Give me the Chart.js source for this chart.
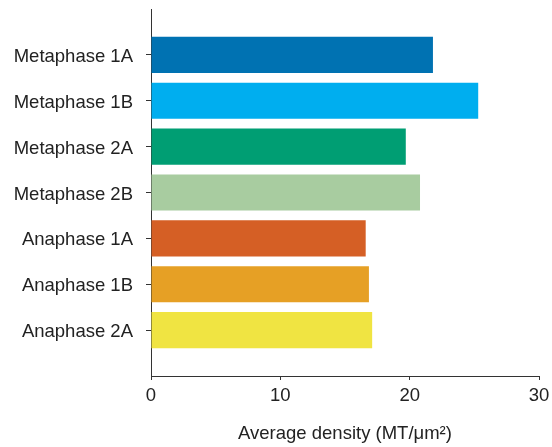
<!DOCTYPE html>
<html>
<head>
<meta charset="utf-8">
<script src="https://cdn.jsdelivr.net/npm/chart.js@4/dist/chart.umd.min.js"></script>
<style>
  html, body { margin: 0; padding: 0; background: #fff; }
  #wrap { width: 552px; height: 447px; }
</style>
</head>
<body>
<div id="wrap"><canvas id="densityChart" width="552" height="447"></canvas></div>
<script>
const phases = ["Metaphase 1A", "Metaphase 1B", "Metaphase 2A", "Metaphase 2B",
                "Anaphase 1A", "Anaphase 1B", "Anaphase 2A"];
const density = [21.8, 25.3, 19.7, 20.8, 16.6, 16.85, 17.1];
const barColors = ["#0072B2", "#00AEEF", "#009E73", "#A8CCA0",
                   "#D55F25", "#E6A025", "#F0E442"];
const xTicks = [0, 10, 20, 30];

// half-empty slot above and below the bars so the axis lines run past them
const labels = ["", ...phases, ""];
const values = [null, ...density, null];
const colors = ["transparent", ...barColors, "transparent"];

const font = { family: "'Liberation Sans', Arial, sans-serif", size: 18.5 };
const ink = "#222";

new Chart(document.getElementById("densityChart"), {
    type: "bar",
    data: {
        labels: labels,
        datasets: [
            {
                data: values,
                backgroundColor: colors,
                borderWidth: 0,
                categoryPercentage: 1,
                barPercentage: 0.785,
            },
        ],
    },
    options: {
        indexAxis: "y",
        responsive: false,
        animation: false,
        layout: { padding: { top: 9, right: 13, left: 0, bottom: 0 } },
        plugins: { legend: { display: false }, tooltip: { enabled: false } },
        scales: {
            x: {
                min: 0,
                max: 30,
                afterBuildTicks: (scale) => {
                    scale.ticks = xTicks.map((v) => ({ value: v }));
                },
                afterFit: (scale) => {
                    scale.height = 71;
                    scale.paddingLeft = 0;
                    scale.paddingRight = 0;
                },
                grid: { drawOnChartArea: false, tickLength: 4, color: "#333" },
                border: { color: "#333", width: 1 },
                ticks: { color: ink, font: font, padding: 5, maxRotation: 0 },
                title: {
                    display: true,
                    text: "Average density (MT/\u03BCm\u00B2)",
                    color: ink,
                    font: font,
                    padding: { top: 0, bottom: 2 },
                },
            },
            y: {
                offset: false,
                afterFit: (scale) => {
                    scale.width = 151;
                    scale.paddingTop = 0;
                    scale.paddingBottom = 0;
                },
                grid: {
                    offset: false,
                    drawOnChartArea: false,
                    tickLength: 5,
                    color: (ctx) =>
                        ctx.index === 0 || ctx.index === labels.length - 1 ? "transparent" : "#333",
                },
                border: { color: "#333", width: 1 },
                ticks: { color: ink, font: font, padding: 13, labelOffset: 2, autoSkip: false },
            },
        },
    },
});
</script>
</body>
</html>
